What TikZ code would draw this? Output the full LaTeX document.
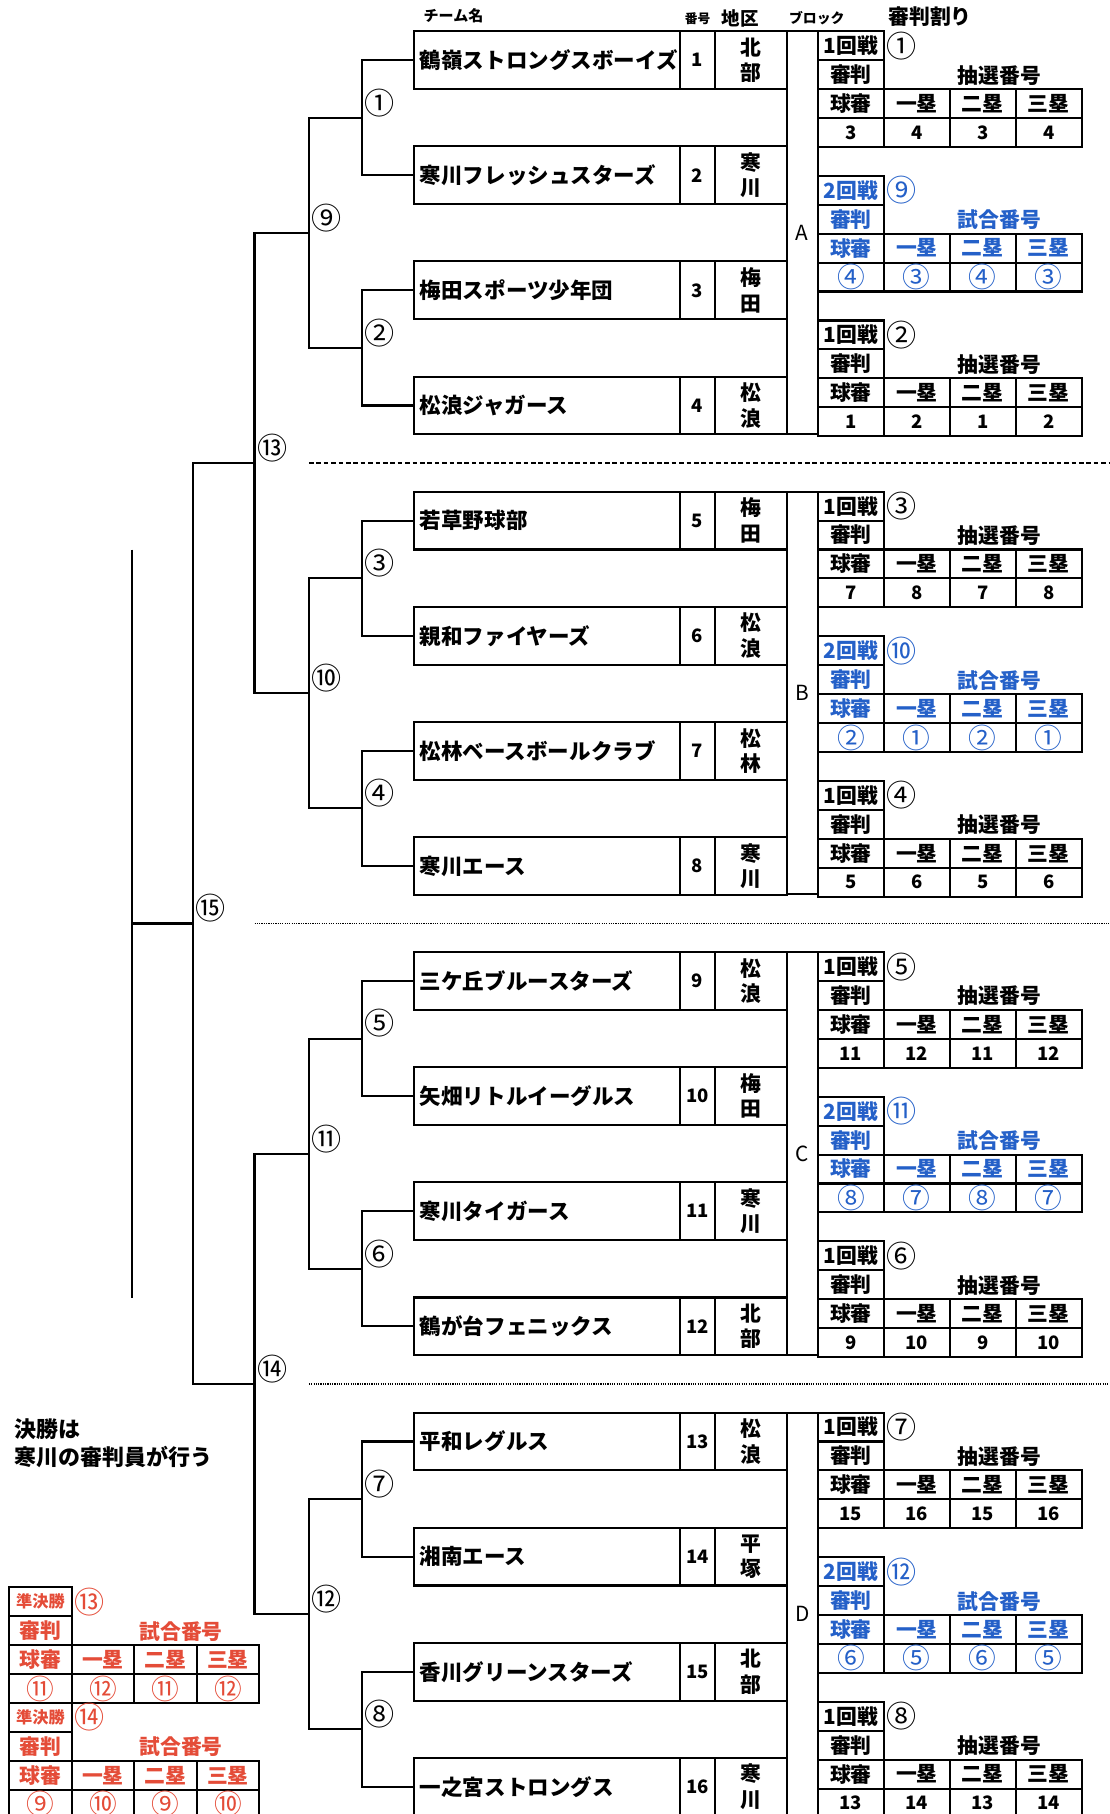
\documentclass[tikz,border=0pt]{standalone}
\usepackage{fontspec}
\setmainfont{Noto Sans CJK JP}
\usetikzlibrary{positioning}
\definecolor{redref}{RGB}{228,76,56}
\definecolor{blueref}{RGB}{36,96,200}
\newcommand{\cn}[1]{{\mdseries\fontsize{12}{12}\selectfont #1}}
\tikzset{
  frame/.style   = {draw, line width=0.9pt, outer sep=0pt, inner sep=0pt},
  team/.style    = {frame, anchor=north west, minimum height=25pt, text width=110pt, inner xsep=2.5pt, align=left, font=\bfseries\fontsize{9.3}{10}\selectfont},
  num/.style     = {frame, minimum height=25pt, minimum width=15pt, font=\bfseries\fontsize{8}{9}\selectfont},
  dist/.style    = {frame, minimum height=25pt, minimum width=31pt, align=center, font=\bfseries\fontsize{9}{11}\selectfont},
  blk/.style     = {frame, anchor=north west, minimum width=13.5pt, minimum height=174pt, font=\fontsize{9}{9}\selectfont},
  cell/.style    = {frame, anchor=north west, minimum height=12.5pt, font=\bfseries\fontsize{9}{9}\selectfont},
  lab/.style     = {anchor=west, inner sep=0pt, font=\fontsize{13}{13}\selectfont},
  head/.style    = {inner sep=0pt, font=\bfseries\fontsize{9}{9}\selectfont},
  bracket/.style = {line width=0.9pt},
  sep/.style     = {line width=0.6pt},
}
% name, x, y, round, game, colour, heading, values, cell width
\newcommand{\umptable}[9]{%
  \node[cell, minimum width=#9*0.5pt, text=#6] (#1r) at (#2,#3) {#4};
  \node[lab, text=#6, right=1pt of #1r] (#1g) {#5};
  \node[cell, minimum width=#9*0.5pt, text=#6] (#1j) at (#2,{#3+25}) {審判};
  \node[head, text=#6] (#1h) at ({#2+2.75*#9},{#3+38}) {#7};
  \foreach \hd [count=\i from 0] in {球審,一塁,二塁,三塁}
    \node[cell, minimum width=#9*0.5pt, text=#6] (#1c\i) at ({#2+\i*#9},{#3+50}) {\hd};
  \foreach \val [count=\i from 0] in {#8}
    \node[cell, minimum width=#9*0.5pt, text=#6, font=\bfseries\fontsize{8}{8}\selectfont] (#1v\i) at ({#2+\i*#9},{#3+75}) {\val};
}

\begin{document}
\begin{tikzpicture}[x=0.5pt, y=-0.5pt]
  \useasboundingbox (0,0) rectangle (959,1568);

  % headings
  \node[head, font=\bfseries\fontsize{6.5}{6.5}\selectfont] (hname) at (392,14) {チーム名};
  \node[head, font=\bfseries\fontsize{5.5}{5.5}\selectfont] (hnum) at (603,16) {番号};
  \node[head, font=\bfseries\fontsize{8}{8}\selectfont] (hdist) at (640,16) {地区};
  \node[head, font=\bfseries\fontsize{6}{6}\selectfont] (hblk) at (706,16) {ブロック};
  \node[head] (hump) at (804,14) {審判割り};

  % teams
  \foreach \k/\tname/\da/\db in {
    1/鶴嶺ストロングスボーイズ/北/部, 2/寒川フレッシュスターズ/寒/川,
    3/梅田スポーツ少年団/梅/田, 4/松浪ジャガース/松/浪,
    5/若草野球部/梅/田, 6/親和ファイヤーズ/松/浪,
    7/松林ベースボールクラブ/松/林, 8/寒川エース/寒/川,
    9/三ケ丘ブルースターズ/松/浪, 10/矢畑リトルイーグルス/梅/田,
    11/寒川タイガース/寒/川, 12/鶴が台フェニックス/北/部,
    13/平和レグルス/松/浪, 14/湘南エース/平/塚,
    15/香川グリーンスターズ/北/部, 16/一之宮ストロングス/寒/川}{
    \node[team] (t\k) at (358,{27+99.5*(\k-1)}) {\tname};
    \node[num, right=0pt of t\k] (n\k) {\k};
    \node[dist, right=0pt of n\k] (d\k) {\da\\\db};
  }
  \foreach \b/\L in {0/A,1/B,2/C,3/D}
    \node[blk] (blk\L) at (680,{27+398*\b}) {\L};

  % bracket
  \foreach \m in {1,...,8}
    \coordinate (m\m) at (313,{101.75+199*(\m-1)});
  \foreach \q in {1,...,4}
    \coordinate (q\q) at (267,{201.25+398*(\q-1)});
  \coordinate (s1) at (220,400.25);
  \coordinate (s2) at (220,1196.25);
  \coordinate (f) at (167,798.25);
  \coordinate (fin) at (114,798.25);
  \coordinate (fintop) at (114,475);
  \coordinate (finbot) at (114,1122);

  \foreach \m in {1,...,8}{
    \pgfmathtruncatemacro\ta{2*\m-1}
    \pgfmathtruncatemacro\tb{2*\m}
    \draw[bracket] (t\ta.west) -| (m\m) |- (t\tb.west);
  }
  \foreach \q in {1,...,4}{
    \pgfmathtruncatemacro\ma{2*\q-1}
    \pgfmathtruncatemacro\mb{2*\q}
    \draw[bracket] (m\ma) -| (q\q) |- (m\mb);
  }
  \draw[bracket] (q1) -| (s1) |- (q2);
  \draw[bracket] (q3) -| (s2) |- (q4);
  \draw[bracket] (s1) -| (f) |- (s2);
  \draw[bracket] (f) -- (fin);
  \draw[bracket] (fintop) -- (finbot);

  \foreach \m/\g in {1/①,2/②,3/③,4/④,5/⑤,6/⑥,7/⑦,8/⑧}
    \node[lab, xshift=1pt, yshift=6.5pt] (gm\m) at (m\m) {\g};
  \foreach \q/\g in {1/⑨,2/⑩,3/⑪,4/⑫}
    \node[lab, xshift=1pt, yshift=6.5pt] (gq\q) at (q\q) {\g};
  \node[lab, xshift=1pt, yshift=6.5pt] (gs1) at (s1) {⑬};
  \node[lab, xshift=1pt, yshift=6.5pt] (gs2) at (s2) {⑭};
  \node[lab, xshift=1pt, yshift=6.5pt] (gf) at (f) {⑮};

  % separators
  \draw[sep, dash pattern=on 2pt off 1.2pt] (267,400.25) -- (959,400.25);
  \draw[sep, dash pattern=on 0.5pt off 0.5pt] (220,798.25) -- (959,798.25);
  \draw[sep, dash pattern=on 0.5pt off 0.5pt] (267,1196.25) -- (959,1196.25);

  % umpire tables
  \umptable{ta}{707}{27}{1回戦}{①}{black}{抽選番号}{3,4,3,4}{57}
  \umptable{tb}{707}{152}{2回戦}{⑨}{blueref}{試合番号}{\cn{④},\cn{③},\cn{④},\cn{③}}{57}
  \umptable{tc}{707}{277}{1回戦}{②}{black}{抽選番号}{1,2,1,2}{57}
  \umptable{td}{707}{425}{1回戦}{③}{black}{抽選番号}{7,8,7,8}{57}
  \umptable{te}{707}{550}{2回戦}{⑩}{blueref}{試合番号}{\cn{②},\cn{①},\cn{②},\cn{①}}{57}
  \umptable{tf}{707}{675}{1回戦}{④}{black}{抽選番号}{5,6,5,6}{57}
  \umptable{tg}{707}{823}{1回戦}{⑤}{black}{抽選番号}{11,12,11,12}{57}
  \umptable{th}{707}{948}{2回戦}{⑪}{blueref}{試合番号}{\cn{⑧},\cn{⑦},\cn{⑧},\cn{⑦}}{57}
  \umptable{ti}{707}{1073}{1回戦}{⑥}{black}{抽選番号}{9,10,9,10}{57}
  \umptable{tj}{707}{1221}{1回戦}{⑦}{black}{抽選番号}{15,16,15,16}{57}
  \umptable{tk}{707}{1346}{2回戦}{⑫}{blueref}{試合番号}{\cn{⑥},\cn{⑤},\cn{⑥},\cn{⑤}}{57}
  \umptable{tl}{707}{1471}{1回戦}{⑧}{black}{抽選番号}{13,14,13,14}{57}
  \umptable{sfa}{8}{1372}{{\fontsize{7}{7}\selectfont 準決勝}}{⑬}{redref}{試合番号}{\cn{⑪},\cn{⑫},\cn{⑪},\cn{⑫}}{54}
  \umptable{sfb}{8}{1472}{{\fontsize{7}{7}\selectfont 準決勝}}{⑭}{redref}{試合番号}{\cn{⑨},\cn{⑩},\cn{⑨},\cn{⑩}}{54}

  % note
  \node[anchor=north west, align=left, inner sep=0pt, font=\bfseries\fontsize{9.5}{12}\selectfont] (note) at (12,1226) {決勝は\\寒川の審判員が行う};
\end{tikzpicture}
\end{document}
